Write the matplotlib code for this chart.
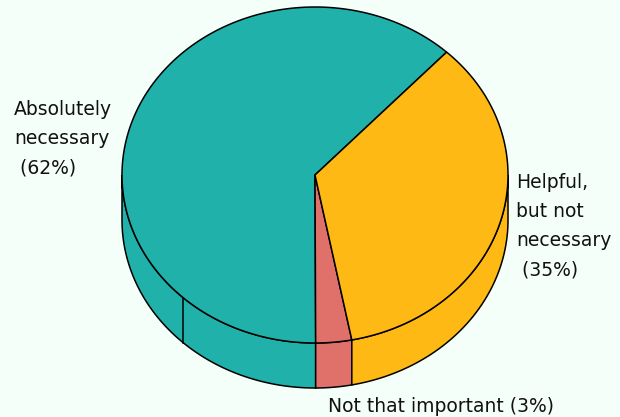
import numpy as np
import matplotlib.pyplot as plt
from matplotlib.patches import Polygon

# data
labels = ['Absolutely\nnecessary\n (62%)', 'Not that important (3%)', 'Helpful,\nbut not\nnecessary\n (35%)']
values = [62, 3, 35]
colors = ['#20B2AA', '#E0706A', '#FFB914']
label_pos = [(14, 100), (328, 397), (516, 173)]

start_angle = 47.0
cx, cy = 315, 175
rx, ry = 193, 168
depth = 45

fig = plt.figure(figsize=(6.2, 4.17), dpi=100, facecolor='#F5FFFA')
ax = fig.add_axes([0, 0, 1, 1])
ax.set_xlim(0, 620)
ax.set_ylim(417, 0)
ax.axis('off')
ax.set_facecolor('#F5FFFA')


def pt(theta, dz=0):
    t = np.radians(theta)
    return cx + rx * np.cos(t), cy - ry * np.sin(t) + dz


# slice angle ranges (counterclockwise)
fracs = np.array(values) / sum(values)
edges = start_angle + np.concatenate([[0], np.cumsum(fracs) * 360])

# side walls: front half (180..360)
for i, c in enumerate(colors):
    a0, a1 = edges[i], edges[i + 1]
    for off in (0, 360, -360):
        lo, hi = max(a0 + off, 180), min(a1 + off, 360)
        if hi <= lo:
            continue
        th = np.linspace(lo, hi, 80)
        top = [pt(t) for t in th]
        bot = [pt(t, depth) for t in th[::-1]]
        ax.add_patch(Polygon(top + bot, closed=True, facecolor=c,
                             edgecolor='black', lw=1.1, zorder=1))

# extra split line on the side opposite the start angle
xs, ys = pt(start_angle + 180)
ax.plot([xs, xs], [ys, ys + depth], color='black', lw=1.1, zorder=2)

# top face
for i, c in enumerate(colors):
    th = np.linspace(edges[i], edges[i + 1], 200)
    poly = [(cx, cy)] + [pt(t) for t in th]
    ax.add_patch(Polygon(poly, closed=True, facecolor=c,
                         edgecolor='black', lw=1.1, zorder=3))

for lab, (x, y) in zip(labels, label_pos):
    ax.text(x, y, lab, ha='left', va='top', fontsize=13.5,
            family='DejaVu Sans', color='#111111', linespacing=1.68)

fig.savefig('out.png', dpi=100, facecolor=fig.get_facecolor())
